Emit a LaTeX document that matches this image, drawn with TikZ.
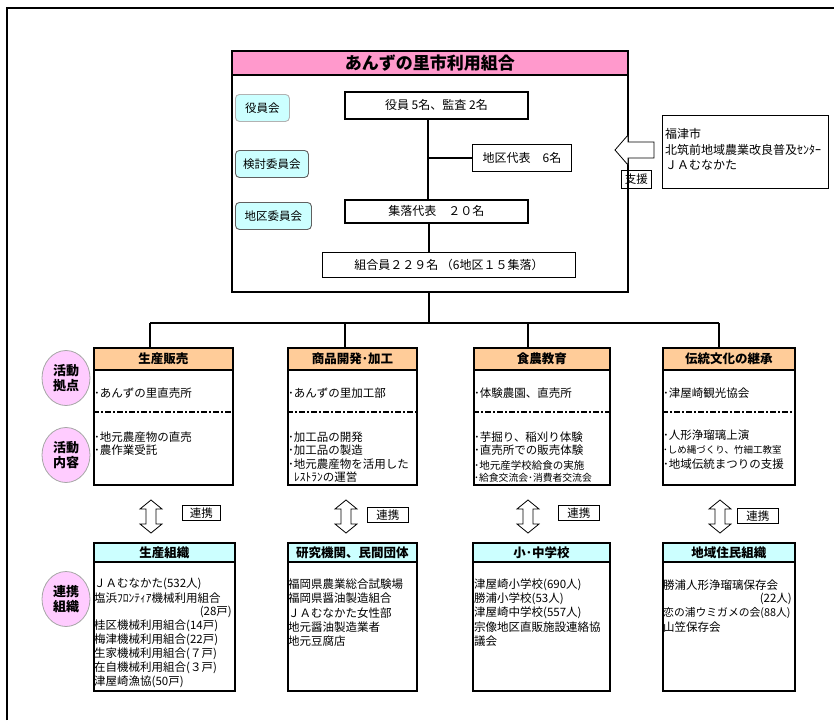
\documentclass[tikz,border=0pt]{standalone}
\usepackage{fontspec}
\setmainfont{Noto Sans CJK JP}
\usetikzlibrary{shapes.geometric,calc}
\definecolor{titlepink}{HTML}{FF99CC}
\definecolor{peach}{HTML}{FFCC99}
\definecolor{lcyan}{HTML}{CCFFFF}
\definecolor{lpink}{HTML}{FFCCFF}
\newcommand\fsz[1]{\fontsize{#1}{#1}\selectfont}
\begin{document}
\begin{tikzpicture}[x=1pt,y=-1pt,
  thickbox/.style={draw, line width=1.8pt, inner sep=0pt, anchor=north west},
  thinbox/.style={draw, line width=0.9pt, inner sep=0pt, anchor=north west, font=\fsz{11.5}},
  hdr/.style={thickbox, font=\fsz{12.5}\bfseries},
  btn/.style={draw=gray!75!black, fill=lcyan, rounded corners=4pt, line width=0.9pt, inner sep=0pt, anchor=north west, font=\fsz{11.5}},
  circ/.style={ellipse, draw=gray!70, line width=0.8pt, fill=lpink, minimum width=48pt, minimum height=55pt, inner sep=0pt, align=center, font=\fontsize{13}{15}\selectfont\bfseries},
  item/.style={anchor=west, inner sep=0pt, font=\fsz{11.5}},
  itemr/.style={anchor=east, inner sep=0pt, font=\fsz{11.5}},
  conn/.style={line width=1.2pt},
  dsh/.style={line width=1.8pt, dash pattern=on 6pt off 2pt on 2pt off 2pt},
  hollow/.style={draw, line width=0.8pt, fill=white}]
\useasboundingbox (0,0) rectangle (834,720);
% outer frame
\draw[line width=1.5pt] (7,720) -- (7,8) -- (834,8);

% main organisation box
\node[thickbox, fill=titlepink, minimum width=396pt, minimum height=24pt, font=\fsz{17}\bfseries] (mainhd) at (231,50) {あんずの里市利用組合};
\node[thickbox, minimum width=396pt, minimum height=241pt] (main) at (231,50) {};

\node[btn, draw=gray!60, minimum width=54pt, minimum height=27pt] (bt1) at (235,94) {役員会};
\node[btn, minimum width=73pt, minimum height=27pt] (bt2) at (235,150) {検討委員会};
\node[btn, minimum width=76pt, minimum height=27pt] (bt3) at (235,202) {地区委員会};

\node[thickbox, font=\fsz{12}, minimum width=183pt, minimum height=27pt] (yak) at (344,91) {役員 5名、監査 2名};
\node[thinbox, font=\fsz{12}, minimum width=99pt, minimum height=27pt] (chi) at (472,144) {地区代表　6名};
\node[thickbox, font=\fsz{12}, minimum width=183pt, minimum height=23pt] (shu) at (344,199) {集落代表　２０名};
\node[thinbox, font=\fsz{12}, minimum width=253pt, minimum height=25pt] (kum) at (322,252) {組合員２２９名 （6地区１５集落）};

\coordinate (vx) at (428,0);
\coordinate (vx2) at (429,0);
\draw[conn] (yak.south -| vx) -- (shu.north -| vx);
\draw[conn] (chi.west) -- (chi.west -| vx);
\draw[conn] (shu.south -| vx2) -- (kum.north -| vx2);

% support box
\node[thinbox, minimum width=166pt, minimum height=73pt] (sup) at (662,115) {};
\node[item, font=\fsz{12}] (sup1) at (665,134) {福津市};
\node[item, font=\fsz{12}] (sup2) at (665,150) {北筑前地域農業改良普及ｾﾝﾀｰ};
\node[item, font=\fsz{12}] (sup3) at (665,165) {ＪＡむなかた};
\draw[hollow] (615,150) -- (628,135) -- (628,142) -- (654,142) -- (654,158) -- (628,158) -- (628,165) -- cycle;
\node[thinbox, minimum width=30pt, minimum height=18pt] (shien) at (621,170) {支援};

% branch lines
\coordinate (jm) at (429,323);
\coordinate (j1) at (150,323);
\coordinate (j2) at (345,323);
\coordinate (j3) at (528,323);
\coordinate (j4) at (719,323);
\draw[conn] (main.south -| jm) -- (jm);
\draw[conn] (j1) -- (j4);

% upper columns
\node[hdr, fill=peach, minimum width=139pt, minimum height=22pt] (h1) at (93,347) {生産販売};
\node[thickbox, minimum width=139pt, minimum height=115pt] (b1) at (93,369) {};
\node[hdr, fill=peach, minimum width=129pt, minimum height=22pt] (h2) at (287,347) {商品開発･加工};
\node[thickbox, minimum width=129pt, minimum height=115pt] (b2) at (287,369) {};
\node[hdr, fill=peach, minimum width=136pt, minimum height=22pt] (h3) at (473,347) {食農教育};
\node[thickbox, minimum width=136pt, minimum height=115pt] (b3) at (473,369) {};
\node[hdr, fill=peach, minimum width=132pt, minimum height=22pt] (h4) at (662,347) {伝統文化の継承};
\node[thickbox, minimum width=132pt, minimum height=115pt] (b4) at (662,369) {};

\foreach \i in {1,2,3,4} \draw[conn] (j\i) -- (j\i |- h\i.north);

\coordinate (dl) at (0,412);
\foreach \i in {1,2,3,4} \draw[dsh] (b\i.west |- dl) -- (b\i.east |- dl);

% column 1 upper
\node[item] (u1a) at (94,393) {･あんずの里直売所};
\node[item] (u1b) at (94,437) {･地元農産物の直売};
\node[item] (u1c) at (94,450) {･農作業受託};
% column 2 upper
\node[item] (u2a) at (288,393) {･あんずの里加工部};
\node[item] (u2b) at (288,437) {･加工品の開発};
\node[item] (u2c) at (288,450) {･加工品の製造};
\node[item] (u2d) at (288,464) {･地元農産物を活用した};
\node[item] (u2e) at (294,477) {ﾚｽﾄﾗﾝの運営};
% column 3 upper
\node[item] (u3a) at (474,393) {･体験農園、直売所};
\node[item] (u3b) at (474,437) {･芋掘り、稲刈り体験};
\node[item] (u3c) at (474,450) {･直売所での販売体験};
\node[item, font=\fsz{10.5}] (u3d) at (474,465) {･地元産学校給食の実施};
\node[item, font=\fsz{9.8}] (u3e) at (474,478) {･給食交流会･消費者交流会};
% column 4 upper
\node[item] (u4a) at (663,393) {･津屋崎観光協会};
\node[item] (u4b) at (663,435) {･人形浄瑠璃上演};
\node[item, font=\fsz{9.5}] (u4c) at (663,450) {･しめ縄づくり、竹細工教室};
\node[item] (u4d) at (663,464) {･地域伝統まつりの支援};

% circles
\node[circ] (ci1) at (66,378) {活動\\拠点};
\node[circ] (ci2) at (66,455) {活動\\内容};
\node[circ] (ci3) at (66,599) {連携\\組織};

% double arrows and labels
\foreach \cx in {151,346,528,720}
  \draw[hollow] (\cx,500) -- ++(11,9) -- ++(-6,0) -- ++(0,15) -- ++(6,0) -- (\cx,533) -- ++(-11,-9) -- ++(6,0) -- ++(0,-15) -- ++(-6,0) -- cycle;
\node[thinbox, minimum width=38pt, minimum height=15pt] (rk1) at (182,505) {連携};
\node[thinbox, minimum width=41pt, minimum height=15pt] (rk2) at (367,507) {連携};
\node[thinbox, minimum width=41pt, minimum height=15pt] (rk3) at (558,505) {連携};
\node[thinbox, minimum width=41pt, minimum height=15pt] (rk4) at (737,508) {連携};

% lower columns
\node[hdr, fill=lcyan, minimum width=141pt, minimum height=19pt] (lh1) at (93,542) {生産組織};
\node[thickbox, minimum width=141pt, minimum height=129pt] (lb1) at (93,561) {};
\node[hdr, fill=lcyan, minimum width=129pt, minimum height=19pt] (lh2) at (287,542) {研究機関、民間団体};
\node[thickbox, minimum width=129pt, minimum height=129pt] (lb2) at (287,561) {};
\node[hdr, fill=lcyan, minimum width=137pt, minimum height=19pt] (lh3) at (472,542) {小･中学校};
\node[thickbox, minimum width=137pt, minimum height=129pt] (lb3) at (472,561) {};
\node[hdr, fill=lcyan, minimum width=132pt, minimum height=19pt] (lh4) at (662,542) {地域住民組織};
\node[thickbox, minimum width=132pt, minimum height=129pt] (lb4) at (662,561) {};

% column 1 lower
\node[item] (l1a) at (94,584) {ＪＡむなかた(532人)};
\node[item] (l1b) at (94,598) {塩浜ﾌﾛﾝﾃｨｱ機械利用組合};
\node[itemr] (l1c) at (232,612) {(28戸)};
\node[item] (l1d) at (94,626) {桂区機械利用組合(14戸)};
\node[item] (l1e) at (94,640) {梅津機械利用組合(22戸)};
\node[item] (l1f) at (94,654) {生家機械利用組合(７戸)};
\node[item] (l1g) at (94,668) {在自機械利用組合(３戸)};
\node[item] (l1h) at (94,682) {津屋崎漁協(50戸)};
% column 2 lower
\node[item] (l2a) at (288,584) {福岡県農業総合試験場};
\node[item] (l2b) at (288,598) {福岡県醤油製造組合};
\node[item] (l2c) at (288,613) {ＪＡむなかた女性部};
\node[item] (l2d) at (288,627) {地元醤油製造業者};
\node[item] (l2e) at (288,641) {地元豆腐店};
% column 3 lower
\node[item] (l3a) at (474,585) {津屋崎小学校(690人)};
\node[item] (l3b) at (474,599) {勝浦小学校(53人)};
\node[item] (l3c) at (474,613) {津屋崎中学校(557人)};
\node[item] (l3d) at (474,627) {宗像地区直販施設連絡協};
\node[item] (l3e) at (474,641) {議会};
% column 4 lower
\node[item] (l4a) at (663,585) {勝浦人形浄瑠璃保存会};
\node[itemr] (l4b) at (792,599) {(22人)};
\node[item, font=\fsz{10.8}] (l4c) at (663,613) {恋の浦ウミガメの会(88人)};
\node[item] (l4d) at (663,627) {山笠保存会};
\end{tikzpicture}
\end{document}
